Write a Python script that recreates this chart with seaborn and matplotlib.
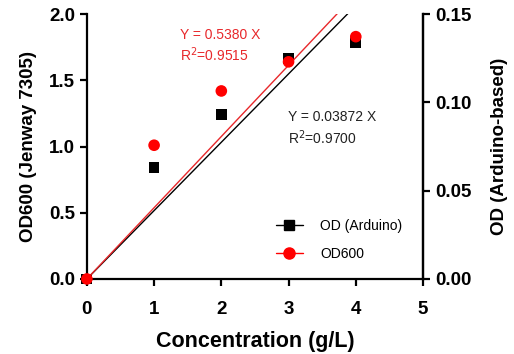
import numpy as np
import matplotlib
matplotlib.use("Agg")
import matplotlib.pyplot as plt
import seaborn as sns
from matplotlib.lines import Line2D

# data
conc = [0, 1, 2, 3, 4]
od600 = [0.0, 1.01, 1.42, 1.64, 1.83]          # Jenway 7305, left axis
od_arduino = [0.0, 0.063, 0.093, 0.125, 0.134]  # Arduino-based, right axis
slope_od600 = 0.5380
slope_arduino = 0.03872

sns.set_theme(style="ticks")
plt.rcParams['font.family'] = ['Liberation Sans', 'DejaVu Sans']
plt.rcParams['text.color'] = 'black'
plt.rcParams['axes.labelcolor'] = 'black'

fig = plt.figure(figsize=(5.14, 3.54), dpi=100)
ax = fig.add_axes([0.169, 0.212, 0.654, 0.748])
ax2 = ax.twinx()

# fitted lines through origin
xfit = np.array([0, 5])
sns.lineplot(x=xfit, y=slope_arduino * xfit, ax=ax2, color="black", lw=1.0)
sns.lineplot(x=xfit, y=slope_od600 * xfit, ax=ax, color="#e8282b", lw=1.0)

sns.scatterplot(x=conc, y=od_arduino, ax=ax2, marker="s", s=60,
                color="black", edgecolor="none", zorder=3, clip_on=False)
sns.scatterplot(x=conc, y=od600, ax=ax, marker="o", s=70,
                color="#ff0000", edgecolor="none", zorder=3, clip_on=False)

# red points on top of black ones
ax.set_zorder(ax2.get_zorder() + 1)
ax.patch.set_visible(False)

ax.set_xlim(0, 5)
ax.set_ylim(0, 2.0)
ax2.set_ylim(0, 0.15)
ax.set_xticks([0, 1, 2, 3, 4, 5])
ax.set_yticks([0, 0.5, 1.0, 1.5, 2.0])
ax.set_yticklabels(["0.0", "0.5", "1.0", "1.5", "2.0"])
ax2.set_yticks([0, 0.05, 0.10, 0.15])
ax2.set_yticklabels(["0.00", "0.05", "0.10", "0.15"])

for a in (ax, ax2):
    for side in a.spines:
        a.spines[side].set_linewidth(1.6)
        a.spines[side].set_color("black")
    a.spines["top"].set_visible(False)
    a.tick_params(width=1.6, length=5, labelsize=13.5, colors="black")
    for lab in a.get_xticklabels() + a.get_yticklabels():
        lab.set_fontweight("bold")
ax2.spines["left"].set_visible(False)
ax2.spines["bottom"].set_visible(False)
ax.tick_params(axis="x", pad=11)

ax.set_xlabel("Concentration (g/L)", fontsize=15.5, fontweight="bold", labelpad=9)
ax.set_ylabel("OD600 (Jenway 7305)", fontsize=13.5, fontweight="bold", labelpad=9)
ax2.set_ylabel("OD (Arduino-based)", fontsize=13.5, fontweight="bold", labelpad=14)

ax.text(1.39, 1.62, "Y = 0.5380 X\nR$^2$=0.9515", color="#e8282b",
        fontsize=10, linespacing=1.25, va="bottom")
ax.text(2.99, 1.00, "Y = 0.03872 X\nR$^2$=0.9700", color="#222222",
        fontsize=10, linespacing=1.25, va="bottom")

handles = [
    Line2D([], [], color="black", lw=1.0, marker="s", markersize=7.5, label="OD (Arduino)"),
    Line2D([], [], color="#ff0000", lw=1.0, marker="o", markersize=8, label="OD600"),
]
ax.legend(handles=handles, loc="lower right", bbox_to_anchor=(0.975, 0.02),
          frameon=False, fontsize=10, handlelength=2.0, handletextpad=1.2,
          labelspacing=1.0)

fig.savefig("out.png", dpi=100)
